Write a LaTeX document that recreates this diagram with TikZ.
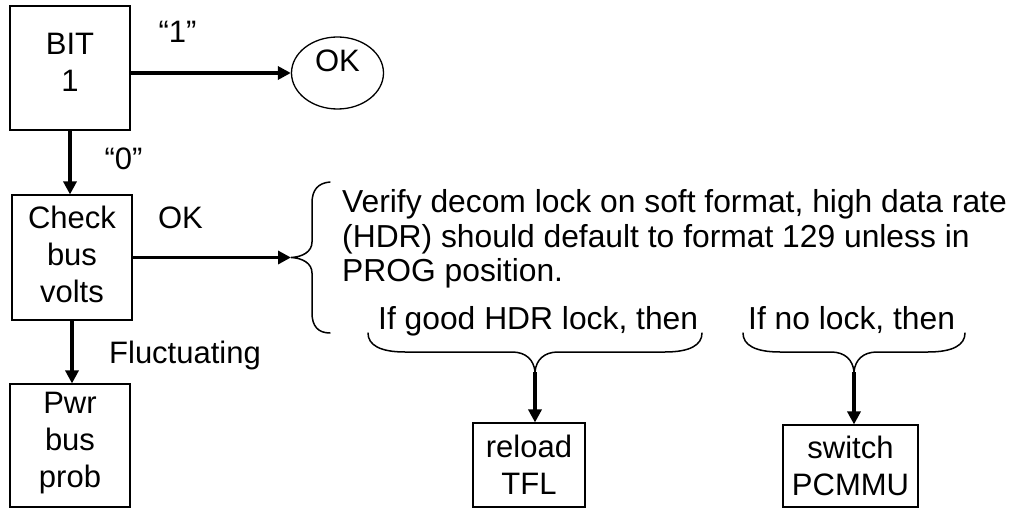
\documentclass[tikz,border=0pt]{standalone}
\usepackage{fontspec}
\setmainfont{Liberation Sans}
\usetikzlibrary{arrows.meta,shapes.geometric}
\begin{document}
\begin{tikzpicture}[x=1pt,y=-1pt,
  box/.style={draw, line width=1.1pt, inner sep=0pt},
  lbl/.style={inner sep=0pt, anchor=base, font=\fontsize{31}{37}\selectfont},
  note/.style={inner sep=0pt, anchor=base west, font=\fontsize{31.8}{37}\selectfont},
  arr/.style={line width=3.5pt, -{Triangle[length=13pt,width=13pt]}},
  brc/.style={line width=1.5pt, line cap=round}]
\useasboundingbox (0,0) rectangle (1018,508);
% boxes
\node[box, minimum width=120pt, minimum height=124pt] (bit) at (70,68) {};
\node[box, ellipse, line width=1.3pt, minimum width=92pt, minimum height=72pt] (ok) at (337.5,73) {};
\node[box, minimum width=120pt, minimum height=125pt] (chk) at (72,257.5) {};
\node[box, minimum width=120pt, minimum height=123pt] (pwr) at (70,445.5) {};
\node[box, minimum width=112pt, minimum height=84pt] (rel) at (529,465) {};
\node[box, minimum width=135pt, minimum height=82pt] (swi) at (850.5,466) {};
% box texts
\node[lbl] (bitA) at (70,55) {BIT};
\node[lbl] (bitB) at (70,92) {1};
\node[lbl] (okT) at (337.5,72) {OK};
\node[lbl] (chkA) at (72,228) {Check};
\node[lbl] (chkB) at (72,265) {bus};
\node[lbl] (chkC) at (72,302) {volts};
\node[lbl] (pwrA) at (70,413) {Pwr};
\node[lbl] (pwrB) at (70,450) {bus};
\node[lbl] (pwrC) at (70,487) {prob};
\node[lbl] (relA) at (529,457) {reload};
\node[lbl] (relB) at (529,494) {TFL};
\node[lbl] (swiA) at (850.5,458) {switch};
\node[lbl] (swiB) at (850.5,495) {PCMMU};
% edge labels
\node[lbl] (one) at (177.5,43) {“1”};
\node[lbl] (zero) at (123.5,170) {“0”};
\node[lbl] (okL) at (180.5,228) {OK};
\node[lbl] (fluc) at (185,363) {Fluctuating};
% note text
\node[note] (v1) at (342,212) {Verify decom lock on soft format, high data rate};
\node[note] (v2) at (342,247) {(HDR) should default to format 129 unless in};
\node[note] (v3) at (342,281) {PROG position.};
\node[note] (g1) at (378,329) {If good HDR lock, then};
\node[note] (g2) at (748,329) {If no lock, then};
% braces
\coordinate (b0tip) at (291,257.5);
\coordinate (b1tip) at (535,372);
\coordinate (b2tip) at (854,372);
\draw[brc] (330,182) .. controls (318,183) and (312,190) .. (312,203) -- (312,242)
  .. controls (312,252) and (302,257) .. (b0tip)
  .. controls (302,258) and (312,263) .. (312,273) -- (312,313)
  .. controls (312,326) and (318,333) .. (330,333);
\draw[brc] (368,333) .. controls (368,345) and (380,352) .. (405,352) -- (512,352)
  .. controls (526,352) and (534,360) .. (b1tip)
  .. controls (536,360) and (544,352) .. (558,352) -- (665,352)
  .. controls (690,352) and (702,345) .. (702,333);
\draw[brc] (743,333) .. controls (743,345) and (755,352) .. (780,352) -- (831,352)
  .. controls (845,352) and (853,360) .. (b2tip)
  .. controls (855,360) and (863,352) .. (877,352) -- (928,352)
  .. controls (953,352) and (965,345) .. (965,333);
% connectors
\draw[arr] (bit.east |- ok.west) -- (ok.west);
\draw[arr] (bit.south) -- (bit.south |- chk.north);
\draw[arr] (chk.east) -- (b0tip);
\draw[arr] (chk.south) -- (chk.south |- pwr.north);
\draw[arr] (b1tip) -- (b1tip |- rel.north);
\draw[arr] (b2tip) -- (b2tip |- swi.north);
\end{tikzpicture}
\end{document}
